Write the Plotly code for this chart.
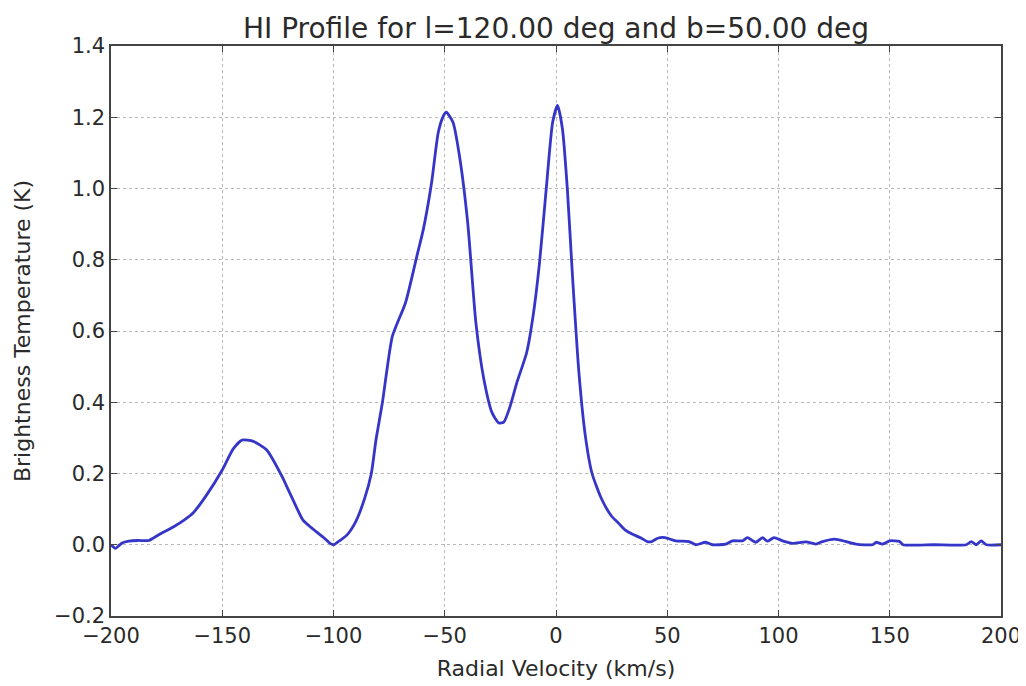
import plotly.graph_objects as go

# HI profile
velocity = [-200, -198, -195, -192, -188, -183, -178, -172, -167, -163, -157, -150,
            -145, -141, -136, -130, -123, -120, -117, -113.8, -110, -107.8, -104, -102, -100, -98, -94,
            -90, -86, -83, -80.9, -78, -76, -73.5, -67.6, -62.5, -59.6, -55.9,
            -52.9, -50.5, -49.3, -46.3, -43.4, -39.7, -36.0, -32.4, -28.7, -25.7,
            -23.5, -20.6, -17.6, -13.2, -10.3, -7.4, -4.4, -1.5, 0.7, 2.9, 5.1,
            7.4, 10.3, 13.2, 16.2, 20.6, 25, 28.2, 31, 34.2, 38.2, 41, 43, 46, 49,
            53.8, 59.8, 62.8, 67.3, 70.3, 76.3, 79.3, 83.8, 86, 89.8, 92.8, 95, 98,
            101.8, 106.3, 112.3, 116.8, 119.8, 125.1, 130.3, 134.8, 142.3, 143.8,
            146.8, 150, 154.4, 156, 170, 184.4, 186.6, 188.9, 191.1, 193.4, 200]
temperature = [0.0, -0.01, 0.005, 0.01, 0.012, 0.012, 0.03, 0.05, 0.07, 0.09, 0.14, 0.21,
               0.27, 0.294, 0.29, 0.266, 0.19, 0.15, 0.11, 0.07, 0.048, 0.037, 0.018, 0.006, 0.0, 0.008, 0.027,
               0.065, 0.13, 0.2, 0.295, 0.4, 0.49, 0.586, 0.68, 0.811, 0.886, 1.017,
               1.158, 1.205, 1.214, 1.186, 1.092, 0.905, 0.623, 0.464, 0.37, 0.342,
               0.344, 0.389, 0.455, 0.539, 0.642, 0.792, 0.998, 1.186, 1.233, 1.167, 0.998,
               0.755, 0.483, 0.305, 0.20, 0.127, 0.08, 0.06, 0.042, 0.03, 0.019, 0.009, 0.009, 0.019, 0.02,
               0.011, 0.009, 0.0, 0.007, 0.0, 0.002, 0.011, 0.011, 0.02, 0.007, 0.02, 0.01, 0.02,
               0.011, 0.004, 0.008, 0.002, 0.009, 0.016, 0.009, 0.002, 0.0, 0.007,
               0.002, 0.011, 0.009, 0.0, 0.0, 0.0, 0.009, 0.0, 0.011, 0.0, 0.0]

font = "DejaVu Sans"
ink = "#2a2a2a"

fig = go.Figure()
fig.add_trace(go.Scatter(x=velocity, y=temperature, mode="lines",
                         line=dict(color="#3535c8", width=2.8, shape="spline", smoothing=0.6)))

axis = dict(showline=True, linecolor="#444444", linewidth=1.5, mirror="ticks",
            ticks="inside", ticklen=6, tickcolor="#444444",
            showgrid=True, gridcolor="#b8b8b8", griddash="dot", gridwidth=1,
            zeroline=False, automargin=False,
            tickfont=dict(family=font, size=21, color=ink))

# the page body adds 8px around the figure, so size it a bit smaller
fig.update_layout(
    width=1018, height=678,
    margin=dict(l=103, r=25, t=38, b=70),
    paper_bgcolor="white", plot_bgcolor="white",
    showlegend=False,
    title=dict(text="HI Profile for l=120.00 deg and b=50.00 deg",
               x=0.5, xref="paper", y=0.97, yanchor="middle",
               font=dict(family=font, size=28, color=ink)),
    xaxis=dict(axis, range=[-200, 200], dtick=50,
               title=dict(text="Radial Velocity (km/s)", standoff=14,
                          font=dict(family=font, size=22, color=ink))),
    yaxis=dict(axis, range=[-0.2, 1.4], dtick=0.2, tickformat=".1f",
               title=dict(text="Brightness Temperature (K)", standoff=17,
                          font=dict(family=font, size=22, color=ink))),
)

fig.write_html("out.html")
